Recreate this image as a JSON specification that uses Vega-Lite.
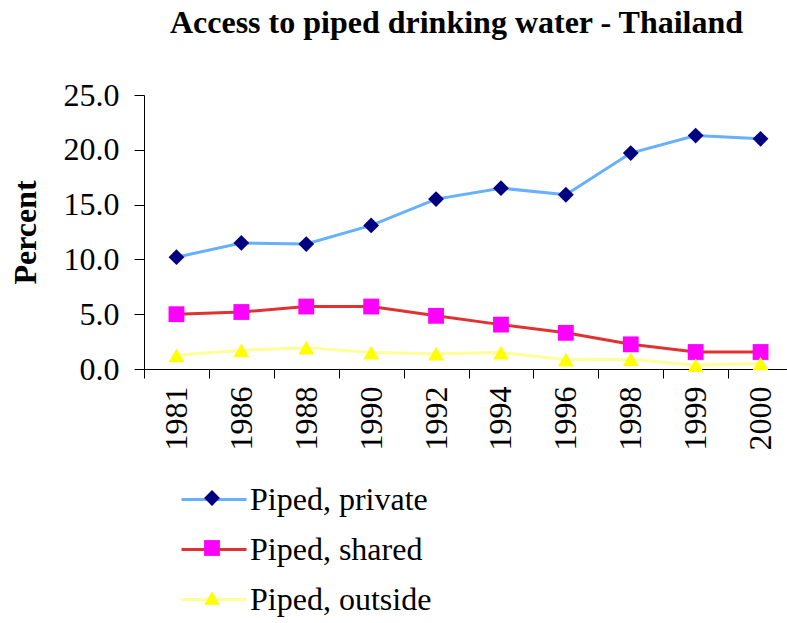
{
  "$schema": "https://vega.github.io/schema/vega-lite/v6.json",
  "autosize": "none",
  "padding": {"left": 144, "top": 95, "right": 0, "bottom": 254},
  "width": 649,
  "height": 274,
  "background": "white",
  "config": {
    "font": "Liberation Serif",
    "view": {"stroke": null},
    "axis": {"domainColor": "black", "tickColor": "black", "labelColor": "black", "titleColor": "black", "grid": false, "labelFont": "Liberation Serif", "titleFont": "Liberation Serif"}
  },
  "title": {
    "text": "Access to piped drinking water - Thailand",
    "font": "Liberation Serif",
    "fontSize": 32,
    "fontWeight": "bold",
    "color": "black",
    "anchor": "middle",
    "frame": "group",
    "dx": -12,
    "offset": 39
  },
  "data": {
    "values": [
      {"year": "1981", "series": "Piped, private", "value": 10.2},
      {"year": "1986", "series": "Piped, private", "value": 11.5},
      {"year": "1988", "series": "Piped, private", "value": 11.4},
      {"year": "1990", "series": "Piped, private", "value": 13.1},
      {"year": "1992", "series": "Piped, private", "value": 15.5},
      {"year": "1994", "series": "Piped, private", "value": 16.5},
      {"year": "1996", "series": "Piped, private", "value": 15.9},
      {"year": "1998", "series": "Piped, private", "value": 19.7},
      {"year": "1999", "series": "Piped, private", "value": 21.3},
      {"year": "2000", "series": "Piped, private", "value": 21.0},
      {"year": "1981", "series": "Piped, shared", "value": 5.0},
      {"year": "1986", "series": "Piped, shared", "value": 5.2},
      {"year": "1988", "series": "Piped, shared", "value": 5.7},
      {"year": "1990", "series": "Piped, shared", "value": 5.7},
      {"year": "1992", "series": "Piped, shared", "value": 4.85},
      {"year": "1994", "series": "Piped, shared", "value": 4.05},
      {"year": "1996", "series": "Piped, shared", "value": 3.3},
      {"year": "1998", "series": "Piped, shared", "value": 2.25},
      {"year": "1999", "series": "Piped, shared", "value": 1.55},
      {"year": "2000", "series": "Piped, shared", "value": 1.55},
      {"year": "1981", "series": "Piped, outside", "value": 1.25},
      {"year": "1986", "series": "Piped, outside", "value": 1.7},
      {"year": "1988", "series": "Piped, outside", "value": 1.95},
      {"year": "1990", "series": "Piped, outside", "value": 1.5},
      {"year": "1992", "series": "Piped, outside", "value": 1.4},
      {"year": "1994", "series": "Piped, outside", "value": 1.5},
      {"year": "1996", "series": "Piped, outside", "value": 0.85},
      {"year": "1998", "series": "Piped, outside", "value": 0.9},
      {"year": "1999", "series": "Piped, outside", "value": 0.35},
      {"year": "2000", "series": "Piped, outside", "value": 0.5}
    ]
  },
  "encoding": {
    "x": {
      "field": "year", "type": "ordinal",
      "scale": {"type": "band", "paddingInner": 0, "paddingOuter": 0},
      "axis": {"title": null, "labelAngle": -90, "labelFontSize": 32, "tickSize": 9, "tickBand": "extent", "labelPadding": 8, "domainWidth": 1, "tickWidth": 1}
    },
    "y": {
      "field": "value", "type": "quantitative",
      "scale": {"domain": [0, 25], "nice": false},
      "axis": {"title": "Percent", "titleFontSize": 32, "titleFontWeight": "bold", "titleX": -119, "titleY": 137, "titleAngle": -90, "titleAlign": "center", "titleBaseline": "middle", "values": [0, 5, 10, 15, 20, 25], "format": ".1f", "labelFontSize": 32, "tickSize": 10, "labelPadding": 15, "domainWidth": 1, "tickWidth": 1}
    }
  },
  "layer": [
    {
      "mark": {"type": "line", "strokeWidth": 3},
      "encoding": {
        "stroke": {
          "field": "series", "type": "nominal",
          "sort": ["Piped, private", "Piped, shared", "Piped, outside"],
          "scale": {"range": ["#66b0ff", "#e03232", "#ffff99"]},
          "legend": {"orient": "none", "legendX": 36, "legendY": 370.5, "title": null, "symbolType": "stroke", "symbolSize": 4225, "symbolStrokeWidth": 3, "labelFontSize": 32, "labelFont": "Liberation Serif", "labelColor": "black", "labelOffset": 2, "rowPadding": -15, "padding": 0, "labelLimit": 400}
        }
      }
    },
    {
      "mark": {"type": "point", "filled": true, "size": 250, "opacity": 1, "strokeWidth": 0},
      "encoding": {
        "fill": {
          "field": "series", "type": "nominal",
          "scale": {"domain": ["Piped, private", "Piped, shared", "Piped, outside"], "range": ["#000080", "#ff00ff", "#ffff00"]},
          "legend": {"orient": "none", "legendX": 52, "legendY": 387, "title": null, "symbolSize": 250, "symbolStrokeWidth": 0, "symbolOpacity": 1, "labelFontSize": 32, "labelExpr": "''", "rowPadding": 18, "padding": 0}
        },
        "shape": {
          "field": "series", "type": "nominal",
          "scale": {"domain": ["Piped, private", "Piped, shared", "Piped, outside"], "range": ["diamond", "square", "triangle-up"]},
          "legend": {"orient": "none", "legendX": 52, "legendY": 387, "title": null, "symbolSize": 250, "symbolStrokeWidth": 0, "symbolOpacity": 1, "labelFontSize": 32, "labelExpr": "''", "rowPadding": 18, "padding": 0}
        }
      }
    }
  ]
}
